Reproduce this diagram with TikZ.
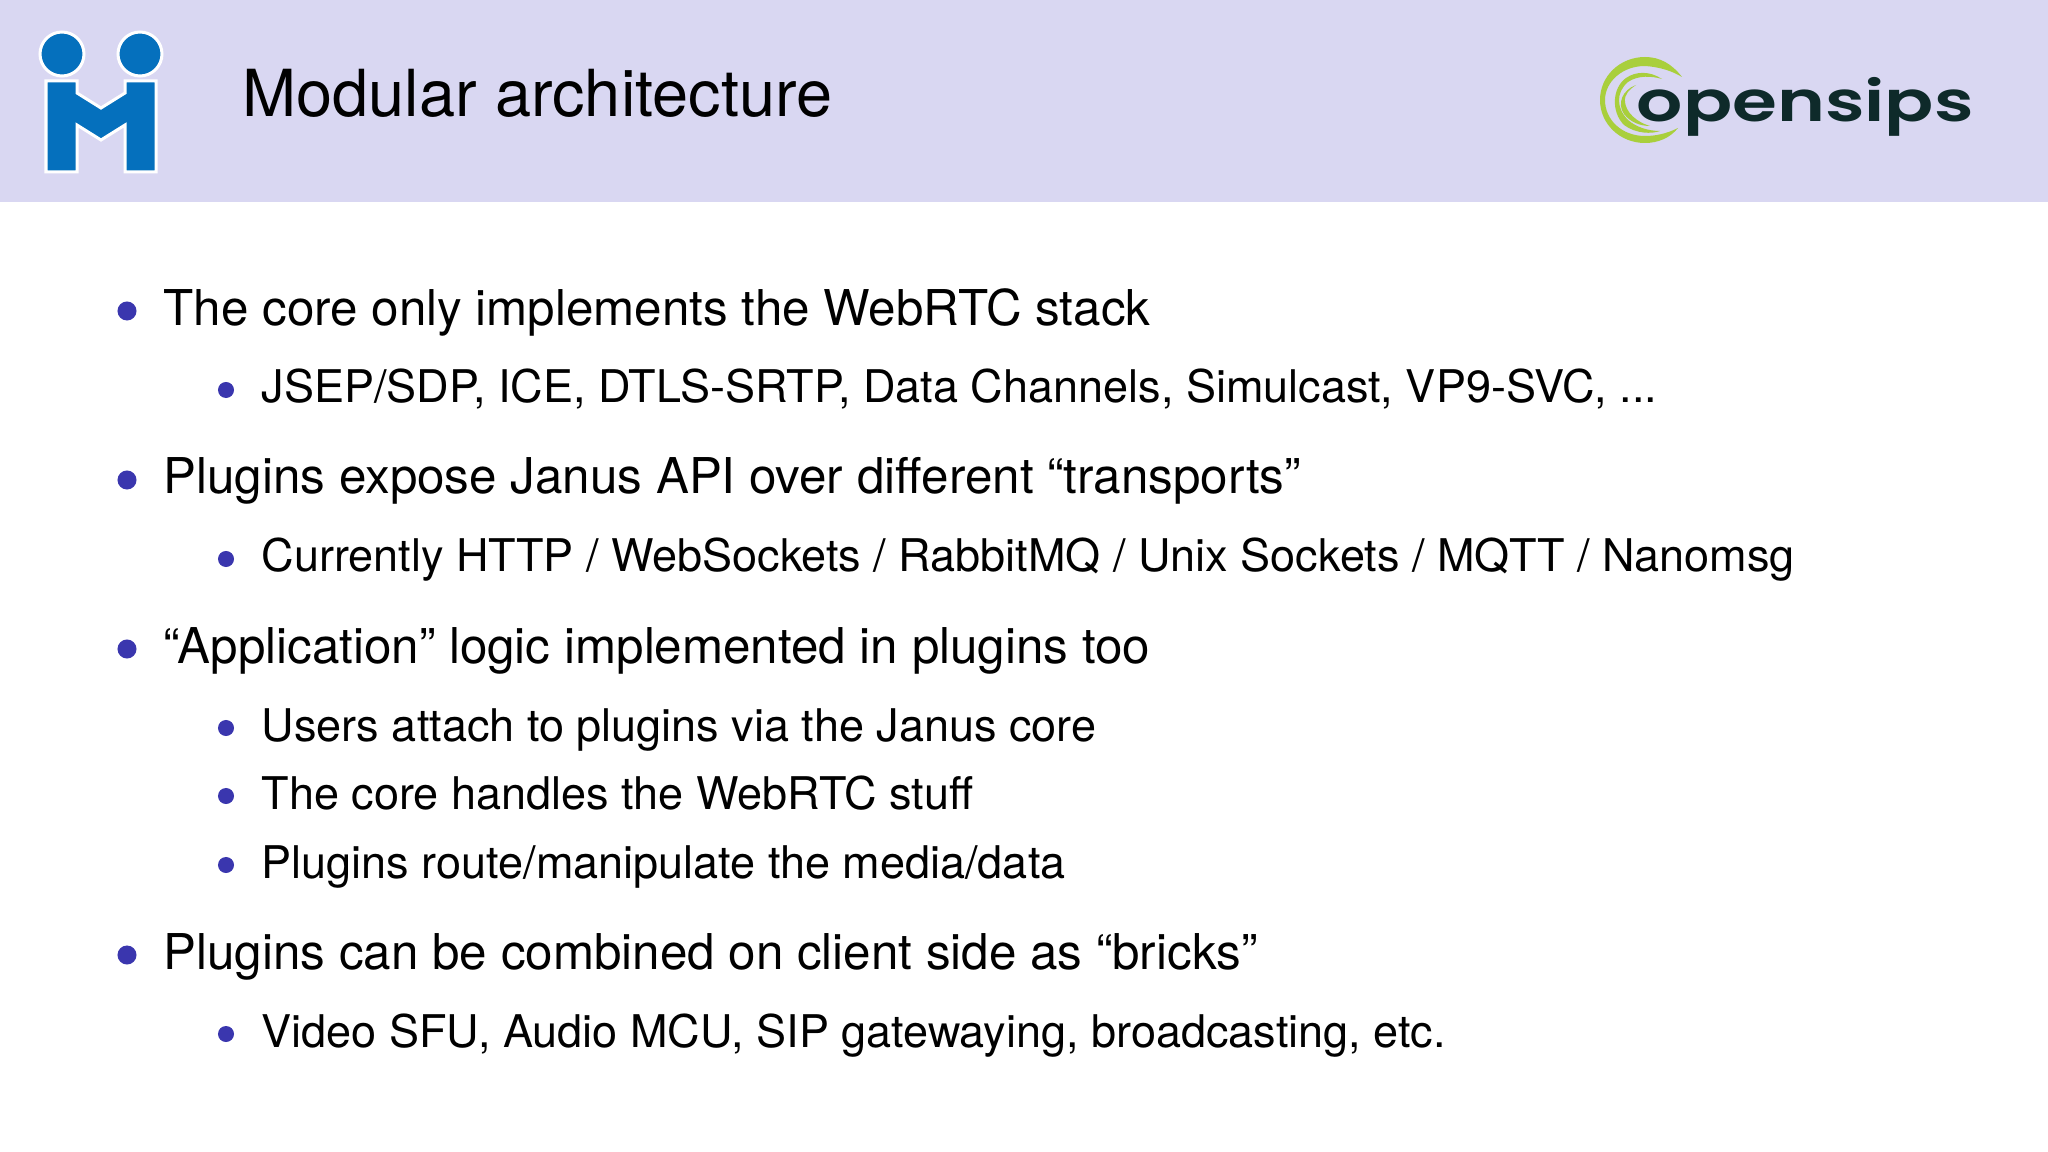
\documentclass[tikz,border=0pt]{standalone}
\usepackage{fontspec}
\setmainfont{TeX Gyre Heros}
\newfontfamily\logofont{Poppins SemiBold}
\usetikzlibrary{positioning}
\definecolor{headbg}{HTML}{D9D7F2}
\definecolor{bulletblue}{HTML}{3A36AE}
\definecolor{logoblue}{HTML}{0570BD}
\definecolor{logolime}{HTML}{A9CF3C}
\definecolor{logodark}{HTML}{0E2A2A}

\begin{document}
\begin{tikzpicture}[
    x=0.01cm,
    y=-0.01cm,
    headline/.style={anchor=base west, inner sep=0pt, font=\fontsize{18.45}{20}\selectfont},
    itemone/.style={anchor=base west, inner sep=0pt, font=\fontsize{14.03}{16}\selectfont},
    itemtwo/.style={anchor=base west, inner sep=0pt, font=\fontsize{12.8}{14}\selectfont},
    dotone/.style={circle, fill=bulletblue, inner sep=0pt, minimum size=0.19cm},
    dottwo/.style={circle, fill=bulletblue, inner sep=0pt, minimum size=0.16cm},
    logoline/.style={fill=logoblue, draw=white, line width=0.03cm}
]
\useasboundingbox (0,0) rectangle (2048,1152);
\fill[headbg] (0,0) rectangle (2048,202);

% Left logo
\path[logoline] (62,54) circle (22);
\path[logoline] (140,54) circle (22);
\path[logoline] (46,81) -- (77,81) -- (77,93) -- (101,108) -- (125,93) -- (125,81) -- (156,81) -- (156,172) -- (125,172) -- (125,125) -- (101,140) -- (77,125) -- (77,172) -- (46,172) -- cycle;

% Title
\node[headline] (title) at (242,117) {Modular architecture};

% Right logo
\fill[logolime] (1682,77) .. controls (1672,64) and (1660,57) .. (1645,57) .. controls (1620,57) and (1600,76) .. (1600,100) .. controls (1600,124) and (1620,143) .. (1645,143) .. controls (1658,143) and (1670,138) .. (1678,128) .. controls (1666,134) and (1655,136) .. (1645,136) .. controls (1622,136) and (1605,120) .. (1605,100) .. controls (1605,82) and (1622,66) .. (1645,66) .. controls (1660,67) and (1672,71) .. (1682,77) -- cycle;
\fill[logolime] (1662,79) .. controls (1650,71) and (1636,71) .. (1626,78) .. controls (1612,88) and (1611,112) .. (1624,125) .. controls (1636,134) and (1652,134) .. (1660,131) .. controls (1648,131) and (1636,127) .. (1628,120) .. controls (1616,108) and (1616,92) .. (1628,82) .. controls (1638,75) and (1652,76) .. (1662,79) -- cycle;
\fill[logolime] (1636,85) .. controls (1622,90) and (1617,104) .. (1624,114) .. controls (1630,122) and (1640,126) .. (1650,126) .. controls (1636,122) and (1626,112) .. (1625,102) .. controls (1624,94) and (1630,89) .. (1636,85) -- cycle;
\node[anchor=base west, inner sep=0pt, text=logodark, font=\logofont\fontsize{16}{16}\selectfont, xscale=1.29, transform shape] (opensips) at (1636,122) {opensips};

% Items
\node[itemone] (core) at (163,326) {The core only implements the WebRTC stack};
\node[itemtwo] (jsep) at (261,403) {JSEP/SDP, ICE, DTLS-SRTP, Data Channels, Simulcast, VP9-SVC, ...};
\node[itemone] (expose) at (163,494) {Plugins expose Janus API over different “transports”};
\node[itemtwo] (http) at (261,572) {Currently HTTP / WebSockets / RabbitMQ / Unix Sockets / MQTT / Nanomsg};
\node[itemone] (logic) at (163,663) {“Application” logic implemented in plugins too};
\node[itemtwo] (attach) at (261,741) {Users attach to plugins via the Janus core};
\node[itemtwo] (stuff) at (261,809) {The core handles the WebRTC stuff};
\node[itemtwo] (route) at (261,878) {Plugins route/manipulate the media/data};
\node[itemone] (bricks) at (163,969) {Plugins can be combined on client side as “bricks”};
\node[itemtwo] (video) at (261,1047) {Video SFU, Audio MCU, SIP gatewaying, broadcasting, etc.};

% Bullets
\foreach \name/\ypos in {core/311, expose/480, logic/649, bricks/955}
    \node[dotone] (dot\name) at (127,\ypos) {};
\foreach \name/\ypos in {jsep/390, http/559, attach/728, stuff/796, route/865, video/1034}
    \node[dottwo] (dot\name) at (226,\ypos) {};
\end{tikzpicture}
\end{document}
